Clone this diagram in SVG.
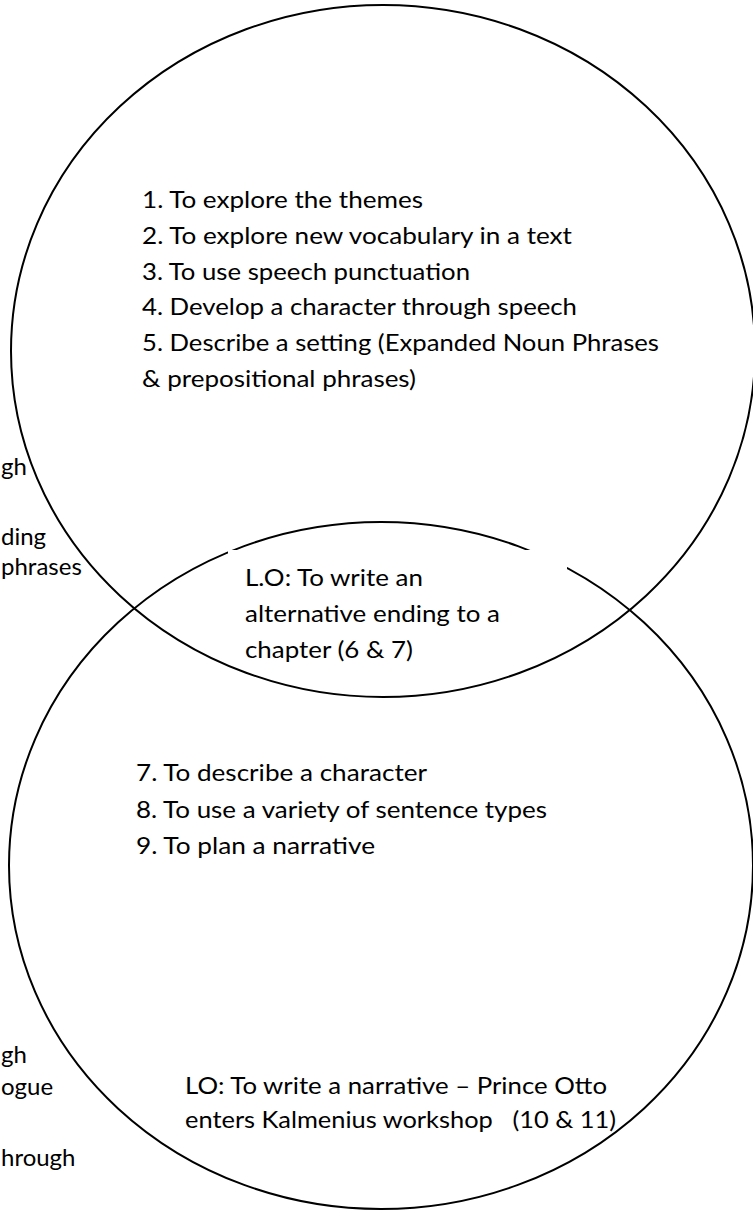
<svg xmlns="http://www.w3.org/2000/svg" width="753" height="1211" viewBox="0 0 753 1211">
  <style>
    .ring { fill: none; stroke: #000; stroke-width: 2; }
    .t { font-family: "Lato", "Liberation Sans", Arial, sans-serif; font-size: 24px; fill: #000; }
  </style>
  <rect x="0" y="0" width="753" height="1211" fill="#fff"/>

  <g id="circle-bottom">
    <ellipse class="ring" cx="381" cy="865.5" rx="372" ry="343.5"/>
  </g>

  <g id="overlap-label">
    <rect x="228" y="550" width="339" height="116" fill="#fff"/>
    <text class="t" x="245" y="586" textLength="178" lengthAdjust="spacingAndGlyphs">L.O: To write an</text>
    <text class="t" x="245" y="622" textLength="255" lengthAdjust="spacingAndGlyphs">alternative ending to a</text>
    <text class="t" x="245" y="658" textLength="168" lengthAdjust="spacingAndGlyphs">chapter (6 &amp; 7)</text>
  </g>

  <g id="circle-top">
    <ellipse class="ring" cx="383" cy="351" rx="372" ry="346"/>
  </g>

  <g id="list-top">
    <text class="t" x="142" y="208" textLength="281" lengthAdjust="spacingAndGlyphs">1. To explore the themes</text>
    <text class="t" x="142" y="244" textLength="430" lengthAdjust="spacingAndGlyphs">2. To explore new vocabulary in a text</text>
    <text class="t" x="142" y="280" textLength="328" lengthAdjust="spacingAndGlyphs">3. To use speech punctuation</text>
    <text class="t" x="142" y="315" textLength="435" lengthAdjust="spacingAndGlyphs">4. Develop a character through speech</text>
    <text class="t" x="142" y="351" textLength="517" lengthAdjust="spacingAndGlyphs">5. Describe a setting (Expanded Noun Phrases</text>
    <text class="t" x="142" y="387" textLength="274" lengthAdjust="spacingAndGlyphs">&amp; prepositional phrases)</text>
  </g>

  <g id="list-bottom">
    <text class="t" x="136" y="781" textLength="291" lengthAdjust="spacingAndGlyphs">7. To describe a character</text>
    <text class="t" x="136" y="818" textLength="411" lengthAdjust="spacingAndGlyphs">8. To use a variety of sentence types</text>
    <text class="t" x="136" y="854" textLength="239" lengthAdjust="spacingAndGlyphs">9. To plan a narrative</text>
  </g>

  <g id="lo-bottom">
    <text class="t" x="185" y="1094" textLength="422" lengthAdjust="spacingAndGlyphs">LO: To write a narrative – Prince Otto</text>
    <text class="t" x="185" y="1128" textLength="431" lengthAdjust="spacingAndGlyphs" xml:space="preserve" style="white-space:pre">enters Kalmenius workshop   (10 &amp; 11)</text>
  </g>

  <g id="left-fragments">
    <text class="t" x="1" y="475">gh</text>
    <text class="t" x="1" y="545">ding</text>
    <text class="t" x="1" y="575">phrases</text>
    <text class="t" x="1" y="1063">gh</text>
    <text class="t" x="1" y="1095">ogue</text>
    <text class="t" x="1" y="1166">hrough</text>
  </g>
</svg>
